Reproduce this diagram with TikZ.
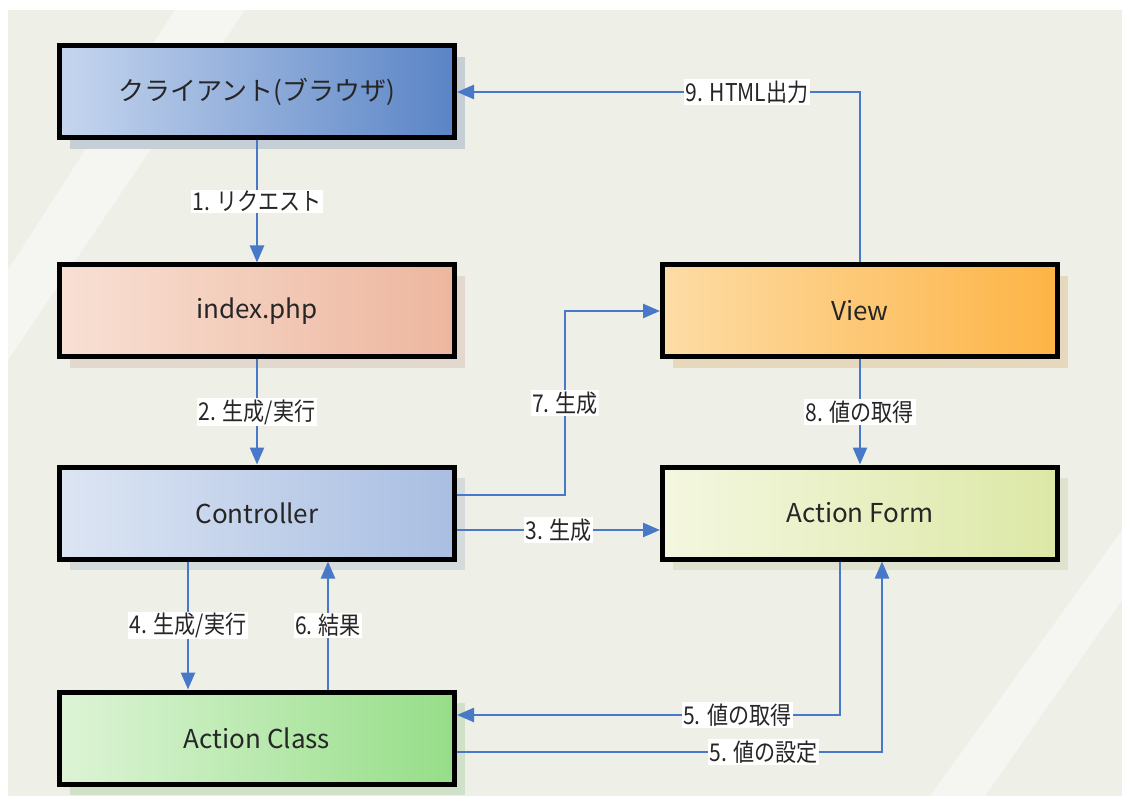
\documentclass[tikz,border=0pt]{standalone}
\usepackage{fontspec}
\setmainfont{Noto Sans CJK JP}
\newfontfamily\lblfont[FakeStretch=0.86]{Noto Sans CJK JP}
\usetikzlibrary{arrows.meta,shadows}
\definecolor{bgc}{RGB}{238,239,231}
\definecolor{linec}{RGB}{72,120,200}
\definecolor{clientL}{HTML}{C6D6EE}\definecolor{clientR}{HTML}{5A84C6}
\definecolor{indexL}{HTML}{F8E0D4}\definecolor{indexR}{HTML}{EDB69E}
\definecolor{ctrlL}{HTML}{DCE5F3}\definecolor{ctrlR}{HTML}{A9BEE2}
\definecolor{aclsL}{HTML}{DDF4D6}\definecolor{aclsR}{HTML}{96DE88}
\definecolor{viewL}{HTML}{FDDCA6}\definecolor{viewR}{HTML}{FDB445}
\definecolor{aformL}{HTML}{F4F7E0}\definecolor{aformR}{HTML}{DCE8A6}
\tikzset{
	box/.style 2 args={draw=black,line width=5pt,minimum width=395pt,minimum height=92pt,
		left color=#1,right color=#2,text=black!85,font=\fontsize{26}{30}\selectfont,
		drop shadow={shadow xshift=10pt,shadow yshift=-11pt,fill=#2!20!bgc!95!black,opacity=1}},
	flow/.style={->,draw=linec,line width=2.5pt},
	lbl/.style={fill=white,inner sep=1.5pt,text=black!85,font=\lblfont\fontsize{24.5}{27}\selectfont},
}

\begin{document}
\begin{tikzpicture}[x=1pt,y=-1pt,>={Triangle[length=17pt,width=14pt]}]
	\useasboundingbox (0,0) rectangle (1122,799);
	\fill[white] (0,0) rectangle (1122,799);
	\fill[bgc] (8,10) rectangle (1122,796); %背景
	\fill[white,opacity=0.45] (175,10)--(245,10)--(8,360)--(8,270)--cycle;
	\fill[white,opacity=0.45] (1122,530)--(1122,600)--(985,796)--(930,796)--cycle;
	% ボックス
	\node[box={clientL}{clientR}] (client) at (257,92) {クライアント(ブラウザ)};
	\node[box={indexL}{indexR}] (index) at (257,311) {index.php};
	\node[box={ctrlL}{ctrlR}] (ctrl) at (257,513) {Controller};
	\node[box={aclsL}{aclsR}] (acls) at (257,738) {Action Class};
	\node[box={viewL}{viewR}] (view) at (860,311) {View};
	\node[box={aformL}{aformR}] (aform) at (860,513) {Action Form};
	% 矢印
	\draw[flow] (client.south) -- node[lbl]{1. リクエスト} (index.north);
	\draw[flow] (index.south) -- node[lbl]{2. 生成/実行} (ctrl.north);
	\draw[flow] ([yshift=-17pt]ctrl.east) -- node[lbl]{3. 生成} ([yshift=-17pt]aform.west);
	\draw[flow] ([xshift=-69pt]ctrl.south) -- node[lbl]{4. 生成/実行} ([xshift=-69pt]acls.north);
	\draw[flow] ([xshift=-20pt]aform.south) |- node[lbl,pos=0.634]{5. 値の取得} ([yshift=23pt]acls.east);
	\draw[flow] ([yshift=-14pt]acls.east) -| node[lbl,pos=0.361]{5. 値の設定} ([xshift=22pt]aform.south);
	\draw[flow] ([xshift=71pt]acls.north) -- node[lbl]{6. 結果} ([xshift=71pt]ctrl.south);
	\draw[flow] ([yshift=18pt]ctrl.east) -- ++(108,0) |- node[lbl,pos=0.25]{7. 生成} (view.west);
	\draw[flow] (view.south) -- node[lbl]{8. 値の取得} (aform.north);
	\draw[flow] (view.north) |- node[lbl,pos=0.64]{9. HTML出力} (client.east);
\end{tikzpicture}
\end{document}
